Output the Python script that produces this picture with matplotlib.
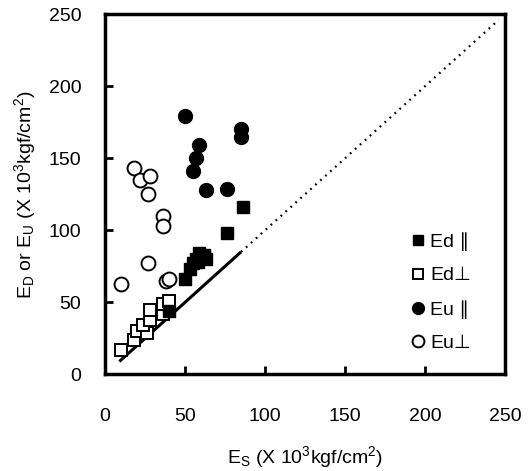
import matplotlib
matplotlib.use("Agg")
import matplotlib.pyplot as plt
import numpy as np

plt.rcParams['font.family'] = ['Liberation Sans', 'DejaVu Sans']
plt.rcParams['mathtext.default'] = 'regular'

# Es vs Ed / Eu (x 10^3 kgf/cm^2)
ed_par_x = [50, 53, 55, 57, 59, 62, 63, 58, 40, 76, 86]
ed_par_y = [66, 73, 77, 80, 84, 83, 80, 78, 44, 98, 116]

ed_perp_x = [10, 18, 20, 26, 24, 28, 28, 36, 36, 40]
ed_perp_y = [17, 24, 30, 29, 34, 38, 45, 42, 49, 51]

eu_par_x = [50, 85, 85, 59, 57, 55, 63, 76]
eu_par_y = [179, 170, 165, 159, 150, 141, 128, 129]

eu_perp_x = [18, 22, 28, 27, 36, 36, 27, 10, 38, 40]
eu_perp_y = [143, 135, 138, 125, 110, 103, 77, 63, 65, 66]

# 1:1 reference line, solid over the data range, dotted beyond
solid_range = [9, 85]
dotted_range = [85, 246]

fig = plt.figure(figsize=(5.30, 4.71), dpi=100)
ax = fig.add_axes([0.198, 0.205, 0.755, 0.765])

ax.plot(solid_range, solid_range, color="black", lw=2.2, solid_capstyle="butt", zorder=1)
ax.plot(dotted_range, dotted_range, color="black", lw=1.6, linestyle=(0, (0.8, 2.2)), zorder=1)

ax.plot(ed_perp_x, ed_perp_y, "s", ms=9, mfc="white", mec="black", mew=1.4, label="Ed\u22a5", zorder=2)
ax.plot(ed_par_x, ed_par_y, "s", ms=9, mfc="black", mec="black", label="Ed \u2225", zorder=3)
ax.plot(eu_par_x, eu_par_y, "o", ms=10, mfc="black", mec="black", label="Eu \u2225", zorder=3)
ax.plot(eu_perp_x, eu_perp_y, "o", ms=10, mfc="white", mec="black", mew=1.4, label="Eu\u22a5", zorder=3)

ax.set_xlim(0, 250)
ax.set_ylim(0, 250)
ax.set_xticks(np.arange(0, 251, 50))
ax.set_yticks(np.arange(0, 251, 50))
ax.tick_params(direction="in", length=6, width=2, labelsize=14)
ax.tick_params(axis="x", pad=24)
ax.tick_params(axis="y", pad=17)
for side in ax.spines.values():
    side.set_linewidth(2.5)

ax.set_xlabel("E$_S$ (X 10$^3$kgf/cm$^2$)", fontsize=14, labelpad=14)
ax.set_ylabel("E$_D$ or E$_U$ (X 10$^3$kgf/cm$^2$)", fontsize=14, labelpad=8)

handles, labels = ax.get_legend_handles_labels()
order = [1, 0, 2, 3]
ax.legend([handles[i] for i in order], [labels[i] for i in order],
          loc="upper left", bbox_to_anchor=(0.715, 0.443), frameon=False,
          fontsize=14, handletextpad=0.1, labelspacing=0.81,
          handlelength=1.0, markerscale=0.85)

fig.savefig("out.png", dpi=100)
